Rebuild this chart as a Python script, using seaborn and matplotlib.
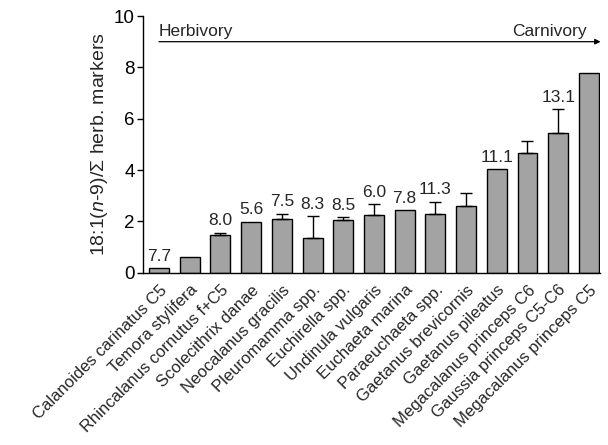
import matplotlib
matplotlib.use("Agg")
import matplotlib.pyplot as plt
import seaborn as sns
import pandas as pd

# Especies (ordenadas de herbívoro a carnívoro)
species = [
    "Calanoides carinatus C5", "Temora stylifera", "Rhincalanus cornutus f+C5",
    "Scolecithrix danae", "Neocalanus gracilis", "Pleuromamma spp.",
    "Euchirella spp.", "Undinula vulgaris", "Euchaeta marina",
    "Paraeuchaeta spp.", "Gaetanus brevicornis", "Gaetanus pileatus",
    "Megacalanus princeps C6", "Gaussia princeps C5-C6", "Megacalanus princeps C5",
]
ratio = [0.18, 0.60, 1.48, 1.99, 2.10, 1.37, 2.06, 2.25, 2.44,
         2.28, 2.61, 4.05, 4.65, 5.46, 7.79]
err_up = [0, 0, 0.08, 0, 0.20, 0.82, 0.12, 0.41, 0,
          0.49, 0.49, 0, 0.48, 0.91, 0]
top_labels = ["7.7", "", "8.0", "5.6", "7.5", "8.3", "8.5", "6.0", "7.8",
              "11.3", "", "11.1", "", "13.1", ""]

df = pd.DataFrame({"species": species, "ratio": ratio, "err": err_up, "lab": top_labels})

sns.set_theme(style="ticks")
plt.rcParams["font.family"] = ["Liberation Sans", "DejaVu Sans"]
plt.rcParams["mathtext.fontset"] = "custom"
plt.rcParams["mathtext.rm"] = "Liberation Sans"
plt.rcParams["mathtext.it"] = "Liberation Sans:italic"

fig = plt.figure(figsize=(6.08, 4.45), dpi=100)
ax = fig.add_axes([0.2357, 0.3872, 0.7511, 0.5768])

sns.barplot(data=df, x="species", y="ratio", color="#a3a3a3", edgecolor="black",
            linewidth=1.0, width=0.65, saturation=1, ax=ax)

# Barras de error (solo hacia arriba)
has_err = df["err"] > 0
ax.errorbar(df.index[has_err], df["ratio"][has_err],
            yerr=[[0] * has_err.sum(), df["err"][has_err]],
            fmt="none", ecolor="black", elinewidth=1.0, capsize=4, capthick=1.0)

# Números encima de cada barra
for i, row in df.iterrows():
    if row["lab"]:
        ax.annotate(row["lab"], (i, row["ratio"] + row["err"]), xytext=(0, 3),
                    textcoords="offset points", ha="center", va="bottom", fontsize=12.5)

# Flecha herbívoro -> carnívoro
ax.annotate("", xy=(14.38, 9.0), xytext=(0, 9.0),
            arrowprops=dict(arrowstyle="-|>", color="black", lw=0.9,
                            mutation_scale=8, shrinkA=0, shrinkB=0),
            annotation_clip=False)
ax.text(0, 9.12, "Herbivory", ha="left", va="bottom", fontsize=12.5)
ax.text(13.92, 9.12, "Carnivory", ha="right", va="bottom", fontsize=12.5)

ax.set_xlim(-0.51, 14.36)
ax.set_ylim(0, 10)
ax.set_yticks([0, 2, 4, 6, 8, 10])
ax.tick_params(axis="y", length=4, width=1, labelsize=13.5, pad=2, colors="black")
ax.tick_params(axis="x", length=0, pad=7)
ax.set_xticks(range(len(species)))
ax.set_xticklabels(species, rotation=45, ha="right", rotation_mode="anchor",
                   fontsize=12)
ax.set_xlabel("")
ax.set_ylabel("18:1($\\mathit{n}$-9)/\u03a3 herb. markers", fontsize=14, labelpad=3)

sns.despine(ax=ax)
for s in ["left", "bottom"]:
    ax.spines[s].set_linewidth(1.0)
    ax.spines[s].set_color("black")

fig.savefig("out.png", dpi=100)
plt.close(fig)
